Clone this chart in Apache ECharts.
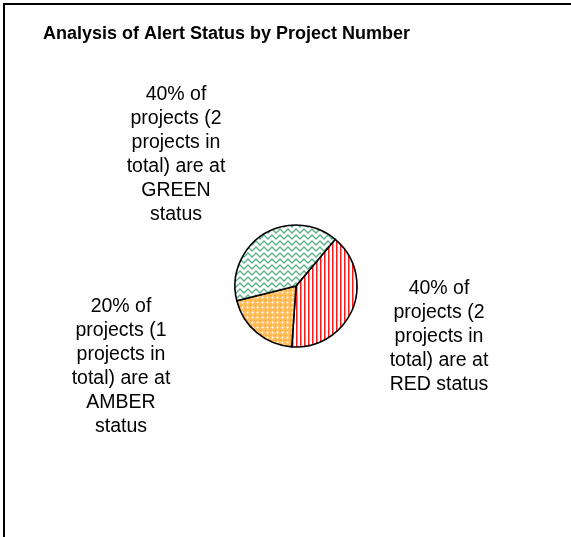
<!DOCTYPE html>
<html>
<head>
<meta charset="utf-8">
<script src="https://cdn.jsdelivr.net/npm/echarts@6/dist/echarts.min.js"></script>
<style>
html, body { margin: 0; padding: 0; background: #fff; }
#Pie { width: 571px; height: 537px; }
</style>
</head>
<body>
<div id="Pie"></div>
<script>
// data
var statusNames = ['RED', 'AMBER', 'GREEN'];
var projectCounts = [2, 1, 2];
var statusLabels = [
    '40% of\nprojects (2\nprojects in\ntotal) are at\nRED status',
    '20% of\nprojects (1\nprojects in\ntotal) are at\nAMBER\nstatus',
    '40% of\nprojects (2\nprojects in\ntotal) are at\nGREEN\nstatus'
];

// where each label sits (center of text block)
var labelPos = [[439, 337], [121, 367], [176, 155]];

function makePattern(kind) {
    var c = document.createElement('canvas');
    var ctx;
    if (kind == 'GREEN') {
        c.width = 8; c.height = 6;
        ctx = c.getContext('2d');
        ctx.fillStyle = '#ffffff';
        ctx.fillRect(0, 0, 8, 6);
        ctx.strokeStyle = '#5db38a';
        ctx.lineWidth = 1.3;
        ctx.beginPath();
        ctx.moveTo(-2, 3);
        ctx.lineTo(0, 1); ctx.lineTo(4, 5); ctx.lineTo(8, 1); ctx.lineTo(10, 3);
        ctx.stroke();
    } else if (kind == 'RED') {
        c.width = 4; c.height = 4;
        ctx = c.getContext('2d');
        ctx.fillStyle = '#ffffff';
        ctx.fillRect(0, 0, 4, 4);
        ctx.fillStyle = '#ff1a1a';
        ctx.fillRect(0, 0, 1, 4);
        ctx.fillStyle = '#ff8a8a';
        ctx.fillRect(1, 0, 1, 4);
    } else {
        c.width = 5; c.height = 5;
        ctx = c.getContext('2d');
        ctx.fillStyle = '#ffbf5e';
        ctx.fillRect(0, 0, 5, 5);
        ctx.fillStyle = '#ffffff';
        ctx.fillRect(2, 2, 1, 1);
        ctx.fillStyle = '#ffdca6';
        ctx.fillRect(1, 2, 1, 1); ctx.fillRect(3, 2, 1, 1);
        ctx.fillRect(2, 1, 1, 1); ctx.fillRect(2, 3, 1, 1);
        ctx.fillStyle = '#ff9f1a';
        ctx.fillRect(0, 0, 1, 1);
    }
    return { image: c, repeat: 'repeat' };
}

showPie();

function showPie() {
    var myChart_Pie = echarts.init(document.getElementById('Pie'));

    var pieData = [];
    for (var i = 0; i < statusNames.length; i++) {
        pieData.push({
            name: statusNames[i],
            value: projectCounts[i],
            itemStyle: { color: makePattern(statusNames[i]) },
            label: { formatter: statusLabels[i] }
        });
    }

    var option_Pie = {
        animation: false,
        title: {
            text: 'Analysis of Alert Status by Project Number',
            left: 43,
            top: 25,
            padding: 0,
            textStyle: {
                fontFamily: 'Liberation Sans',
                fontSize: 18,
                fontWeight: 'bold',
                color: '#000'
            }
        },
        graphic: [{
            type: 'polyline',
            shape: { points: [[4, 537], [4, 4], [571, 4]] },
            style: { stroke: '#000', lineWidth: 2, fill: null }
        }],
        series: [{
            name: 'Alert Status',
            type: 'pie',
            radius: 61,
            center: [296, 286],
            startAngle: 50,
            clockwise: true,
            itemStyle: {
                borderColor: '#000',
                borderWidth: 1.6
            },
            label: {
                show: true,
                position: 'outside',
                fontFamily: 'Liberation Sans',
                fontSize: 19.5,
                lineHeight: 24,
                color: '#000',
                align: 'center'
            },
            labelLine: { show: false },
            labelLayout: function (p) {
                return {
                    x: labelPos[p.dataIndex][0],
                    y: labelPos[p.dataIndex][1],
                    align: 'center',
                    verticalAlign: 'middle'
                };
            },
            emphasis: { disabled: true },
            data: pieData
        }]
    };
    myChart_Pie.setOption(option_Pie);
}
</script>
</body>
</html>
